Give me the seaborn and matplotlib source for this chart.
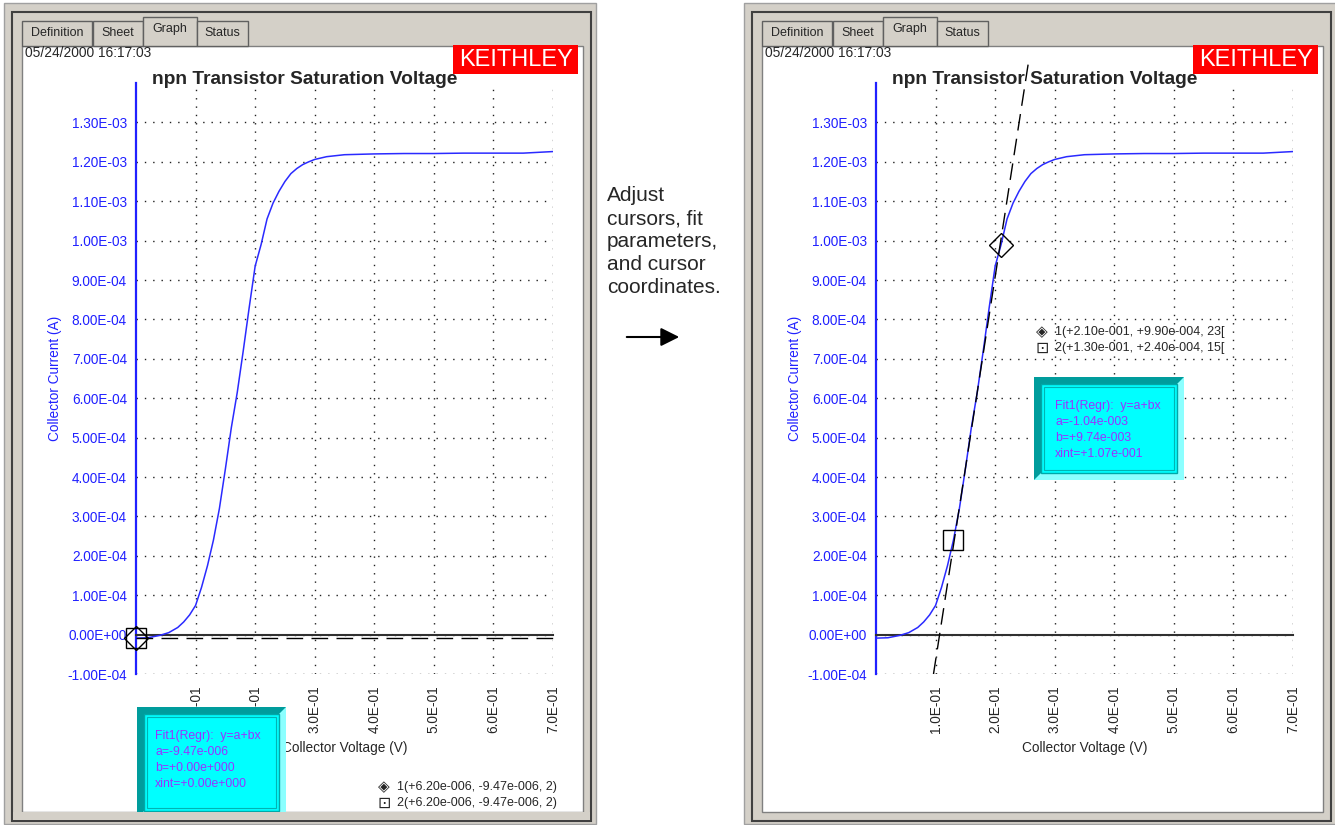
import matplotlib
matplotlib.use("Agg")
import matplotlib.pyplot as plt
import seaborn as sns
from matplotlib.patches import Rectangle, Polygon, FancyArrowPatch
from matplotlib.ticker import FuncFormatter, MultipleLocator

# measured collector current vs collector voltage (same sweep in both screenshots)
voltage = [0.0, 0.02, 0.04, 0.055, 0.07, 0.08, 0.09, 0.10, 0.11, 0.12, 0.13, 0.14,
           0.15, 0.16, 0.17, 0.18, 0.19, 0.20, 0.21, 0.22, 0.23, 0.24, 0.25, 0.26,
           0.27, 0.28, 0.29, 0.30, 0.32, 0.35, 0.40, 0.45, 0.50, 0.55, 0.60, 0.65, 0.70]
current = [-0.09e-4, -0.08e-4, -0.02e-4, 0.05e-4, 0.18e-4, 0.32e-4, 0.50e-4, 0.74e-4,
           1.20e-4, 1.75e-4, 2.40e-4, 3.20e-4, 4.20e-4, 5.25e-4, 6.15e-4, 7.20e-4,
           8.30e-4, 9.35e-4, 9.90e-4, 10.55e-4, 10.95e-4, 11.25e-4, 11.50e-4, 11.70e-4,
           11.83e-4, 11.93e-4, 12.00e-4, 12.06e-4, 12.13e-4, 12.18e-4, 12.20e-4, 12.21e-4,
           12.21e-4, 12.22e-4, 12.22e-4, 12.22e-4, 12.26e-4]

# fit results and cursor positions (before / after)
fit_a = [-9.47e-6, -1.04e-3]
fit_b = [0.0, 9.74e-3]
fit_xint = [0.0, 1.07e-1]
cursor1 = [(6.20e-6, -9.47e-6, 2), (2.10e-1, 9.90e-4, 23)]
cursor2 = [(6.20e-6, -9.47e-6, 2), (1.30e-1, 2.40e-4, 15)]

x_ticks = [0.1, 0.2, 0.3, 0.4, 0.5, 0.6, 0.7]
y_ticks = [-1e-4, 0, 1e-4, 2e-4, 3e-4, 4e-4, 5e-4, 6e-4, 7e-4, 8e-4, 9e-4,
           1.0e-3, 1.1e-3, 1.2e-3, 1.3e-3]
tabs = ["Definition", "Sheet", "Graph", "Status"]
timestamp = "05/24/2000 16:17:03"
title = "npn Transistor Saturation Voltage"

sns.set_style("white")
plt.rcParams['font.family'] = ['Liberation Sans', 'DejaVu Sans']

W, H = 1335, 825
fig = plt.figure(figsize=(W / 100, H / 100), dpi=100)
fig.patch.set_facecolor('white')


def prect(x0, y0, x1, y1, **kw):
    r = Rectangle((x0 / W, 1 - y1 / H), (x1 - x0) / W, (y1 - y0) / H,
                  transform=fig.transFigure, **kw)
    fig.add_artist(r)
    return r


def ptext(x, y, s, **kw):
    return fig.text(x / W, 1 - y / H, s, **kw)


def sci(v):
    # old-style three-digit exponent, e.g. -9.47e-006
    return "{:+.2e}".format(v).replace('e-0', 'e-00').replace('e+0', 'e+00')


def fit_box(x0, y0, x1, y1, lines, tx, ty):
    prect(x0, y0, x1, y1, facecolor='#009c9c', edgecolor='none', zorder=5)
    pts = [(x1, y0), (x1, y1), (x0, y1), (x0 + 7, y1 - 7), (x1 - 7, y1 - 7), (x1 - 7, y0 + 7)]
    fig.add_artist(Polygon([(px / W, 1 - py / H) for px, py in pts], closed=True,
                           transform=fig.transFigure, facecolor='#8cffff',
                           edgecolor='none', zorder=5))
    prect(x0 + 7, y0 + 7, x1 - 7, y1 - 7, facecolor='#00ffff',
          edgecolor='#00a8a8', lw=1, zorder=5)
    prect(x0 + 10, y0 + 10, x1 - 10, y1 - 10, facecolor='none',
          edgecolor='#00b4b4', lw=0.8, zorder=5)
    for i, s in enumerate(lines):
        ptext(tx, ty + 16 * i, s, color='#9933ff', fontsize=8.8,
              va='center', ha='left', zorder=6)


panels = [0, 740]
for k, off in enumerate(panels):
    # window chrome
    prect(off + 4, 3, off + 596, 824, facecolor='#d4d0c8', edgecolor='#a0a0a0', lw=1, zorder=-5)
    prect(off + 12, 12, off + 591, 821, facecolor='#d4d0c8', edgecolor='#404040', lw=1.5, zorder=-5)
    prect(off + 22, 46, off + 583, 812, facecolor='white', edgecolor='#808080', lw=1, zorder=-4)
    tab_x = [(22, 92), (93, 143), (143, 197), (197, 248)]
    for (t0, t1), name in zip(tab_x, tabs):
        top = 17 if name == "Graph" else 21
        prect(off + t0, top, off + t1, 46, facecolor='#d4d0c8', edgecolor='#606060',
              lw=1, zorder=-3)
        ptext(off + (t0 + t1) / 2, top + 12, name, fontsize=9, ha='center', va='center')
    ptext(off + 25, 53, timestamp, fontsize=9.9, ha='left', va='center')
    prect(off + 453, 45, off + 578, 74, facecolor='#ff0000', edgecolor='none', zorder=-3)
    ptext(off + 516, 60, "KEITHLEY", color='white', fontsize=17, ha='center', va='center')

    # plot area
    ax = fig.add_axes([(off + 136) / W, 1 - 674 / H, 417 / W, 591 / H])
    ax.patch.set_alpha(0)
    sns.lineplot(x=voltage, y=current, ax=ax, color='#2a2aff', lw=1.1, zorder=3)

    a, b = fit_a[k], fit_b[k]
    if b == 0:
        fx = [0.0, 0.7]
    else:
        fx = [(-1e-4 - a) / b, (1.46e-3 - a) / b]
    ax.plot(fx, [a + b * v for v in fx], color='black', lw=1, dashes=(12, 6),
            clip_on=False, zorder=4)

    c1, c2 = cursor1[k], cursor2[k]
    ax.plot([c1[0]], [c1[1]], marker='D', ms=12, mfc='none', mec='black',
            mew=1, clip_on=False, zorder=5)
    ax.plot([c2[0]], [c2[1]], marker='s', ms=15, mfc='none', mec='black',
            mew=1, clip_on=False, zorder=5)

    ax.set_xlim(0, 0.7)
    ax.set_ylim(-1e-4, 1.4e-3)
    ax.set_xticks(x_ticks)
    ax.xaxis.set_minor_locator(MultipleLocator(0.05))
    ax.set_yticks(y_ticks)
    ax.yaxis.set_minor_locator(MultipleLocator(0.5e-4))
    ax.yaxis.set_major_formatter(FuncFormatter(lambda v, p: '{:.2E}'.format(0 if abs(v) < 1e-12 else v)))
    for side in ['top', 'right']:
        ax.spines[side].set_visible(False)
    ax.spines['left'].set_color('#2020ff')
    ax.spines['left'].set_linewidth(1.6)
    ax.spines['bottom'].set_position(('data', 0))
    ax.spines['bottom'].set_color('#303030')
    ax.spines['bottom'].set_linewidth(1.5)
    ax.tick_params(axis='y', which='both', direction='inout', colors='#2020ff',
                   labelsize=9.8, width=1.3, pad=2, length=9)
    ax.tick_params(axis='x', which='both', direction='inout', color='#303030',
                   length=9, width=1.2, labelbottom=False)
    ax.grid(True, which='major', color='#202020', linestyle=(0, (1, 5)), lw=1)
    ax.set_axisbelow(True)

    sec = ax.secondary_xaxis(0)
    sec.set_xticks(x_ticks)
    sec.xaxis.set_major_formatter(FuncFormatter(lambda v, p: '{:.1E}'.format(v)))
    sec.tick_params(axis='x', length=0, labelsize=9.8, labelrotation=90, pad=8)
    sec.spines['bottom'].set_visible(False)

    ax.text(0.5, -0.125, "Collector Voltage (V)", transform=ax.transAxes,
            fontsize=9.8, ha='center', va='center')
    ptext(off + 55, 378, "Collector Current (A)", rotation=90, color='#2020ff',
          fontsize=9.8, ha='center', va='center')
    ptext(off + 305, 80, title, fontsize=13.8, fontweight='bold', ha='center', va='center')

    box_lines = ["Fit1(Regr):  y=a+bx",
                 "a=" + sci(fit_a[k]),
                 "b=" + sci(fit_b[k]),
                 "xint=" + sci(fit_xint[k])]

    def fmt(c):
        return "({}, {}, {})".format(sci(c[0]), sci(c[1]), c[2])

    if k == 0:
        fit_box(137, 707, 286, 818, box_lines, 155, 736)
        prect(off + 13, 812, off + 590, 820, facecolor='#d4d0c8', edgecolor='none', zorder=5.5)
        lx, ly = 384, 787
        l1, l2 = "1" + fmt(c1), "2" + fmt(c2)
    else:
        fit_box(1034, 377, 1184, 480, box_lines, 1055, 406)
        lx, ly = 1042, 332
        l1, l2 = "1" + fmt(c1)[:-1] + "[", "2" + fmt(c2)[:-1] + "["
    ptext(lx, ly, "\u25c8", family='DejaVu Sans', fontsize=11, ha='center', va='center', zorder=6)
    ptext(lx, ly + 16, "\u22a1", family='DejaVu Sans', fontsize=11.5, ha='center', va='center', zorder=6)
    ptext(lx + 13, ly, l1, fontsize=9, ha='left', va='center', zorder=6)
    ptext(lx + 13, ly + 16, l2, fontsize=9, ha='left', va='center', zorder=6)

# middle caption and arrow
ptext(607, 186, "Adjust\ncursors, fit\nparameters,\nand cursor\ncoordinates.",
      fontsize=15, ha='left', va='top', linespacing=1.27)
fig.add_artist(FancyArrowPatch((624 / W, 1 - 337 / H), (682 / W, 1 - 337 / H),
                               transform=fig.transFigure, arrowstyle='-|>',
                               mutation_scale=28, color='black', lw=1.5))

plt.savefig('out.png', dpi=100)
